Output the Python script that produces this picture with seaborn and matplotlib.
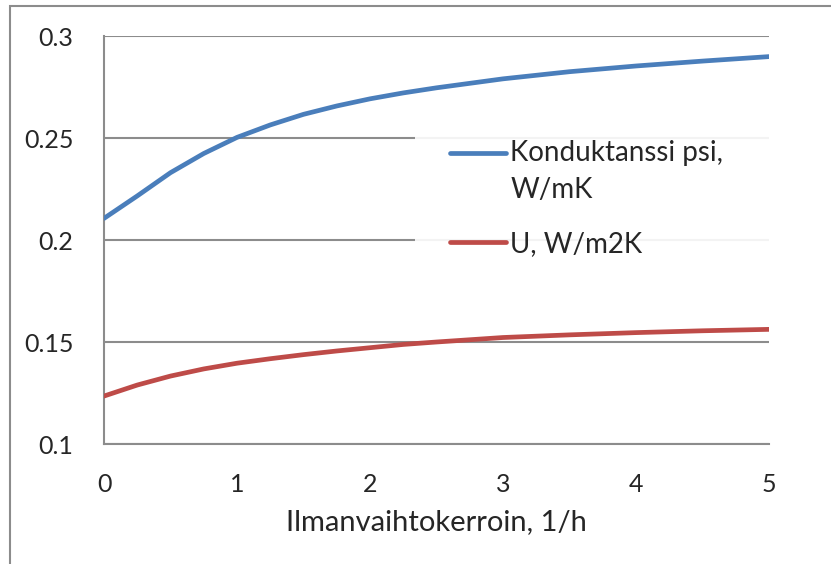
import matplotlib
matplotlib.use("Agg")
import matplotlib.pyplot as plt
import seaborn as sns
import pandas as pd
from matplotlib.patches import Rectangle

# Values
air_change = [0, 0.25, 0.5, 0.75, 1, 1.25, 1.5, 1.75, 2, 2.25, 2.5,
              3, 3.5, 4, 4.5, 5]
psi_values = [0.2106, 0.2216, 0.2330, 0.2424, 0.2503, 0.2564, 0.2616, 0.2657,
              0.2692, 0.2721, 0.2746, 0.2790, 0.2825, 0.2853, 0.2877, 0.2899]
u_values = [0.1235, 0.1289, 0.1333, 0.1368, 0.1396, 0.1418, 0.1438, 0.1456,
            0.1472, 0.1488, 0.1500, 0.1522, 0.1535, 0.1546, 0.1555, 0.1562]
series_names = ["Konduktanssi psi,\nW/mK", "U, W/m2K"]
x_ticks = [0, 1, 2, 3, 4, 5]
y_ticks = [0.1, 0.15, 0.2, 0.25, 0.3]
y_tick_labels = ["0.1", "0.15", "0.2", "0.25", "0.3"]

df = pd.concat([
    pd.DataFrame({"x": air_change, "y": psi_values, "series": series_names[0]}),
    pd.DataFrame({"x": air_change, "y": u_values, "series": series_names[1]}),
])

sns.set_style("white")
plt.rcParams["font.family"] = ["Lato", "DejaVu Sans"]

fig = plt.figure(figsize=(8.31, 5.64), dpi=100)
ax = fig.add_axes([104 / 831, 1 - 444 / 564, 665 / 831, 408 / 564])

# outer chart border (runs off the right/bottom edge)
fig.patches.append(Rectangle((10 / 831, -0.05), 1.1, 1 - 6 / 564 + 0.05,
                             transform=fig.transFigure, fill=False,
                             edgecolor="#8c8c8c", linewidth=1.5, zorder=0))

palette = {series_names[0]: "#4A7EBB", series_names[1]: "#BE4B48"}
sns.lineplot(data=df, x="x", y="y", hue="series", palette=palette,
             linewidth=3.4, ax=ax, zorder=3)

ax.set_xlim(0, 5)
ax.set_ylim(0.1, 0.3)
ax.set_xticks(x_ticks)
ax.set_yticks(y_ticks)
ax.set_yticklabels(y_tick_labels)
ax.yaxis.grid(True, color="#8c8c8c", linewidth=1.5)
ax.set_axisbelow(True)
for side in ["top", "right"]:
    ax.spines[side].set_visible(False)
for side in ["left", "bottom"]:
    ax.spines[side].set_color("#8c8c8c")
    ax.spines[side].set_linewidth(1.5)
ax.tick_params(axis="x", direction="in", length=8, width=1.2, color="#8c8c8c",
               pad=21, labelsize=18)
ax.tick_params(axis="y", length=0, pad=22, labelsize=18)
ax.set_xlabel("Ilmanvaihtokerroin, 1/h", fontsize=21, labelpad=9)
ax.set_ylabel("")

# legend background box (Excel legend area sits over the gridlines)
ax.add_patch(Rectangle((0.468, 0.43), 0.6, 0.335, transform=ax.transAxes,
                       facecolor="white", edgecolor="none", alpha=0.9,
                       zorder=1.5, clip_on=False))

leg = ax.legend(loc="upper left", bbox_to_anchor=(0.5, 0.78),
                frameon=False, fontsize=20, handlelength=2.0,
                handletextpad=0.15, labelspacing=1.0, borderpad=0.5,
                borderaxespad=0)
leg.set_zorder(2)
leg.get_texts()[0].set_linespacing(1.55)
for line in leg.get_lines():
    line.set_linewidth(3.4)
# Excel puts the handle next to the first line of a wrapped label
first = leg.get_lines()[0]
first.set_ydata([y + 14 for y in first.get_ydata()])

fig.savefig("out.png", dpi=100)
